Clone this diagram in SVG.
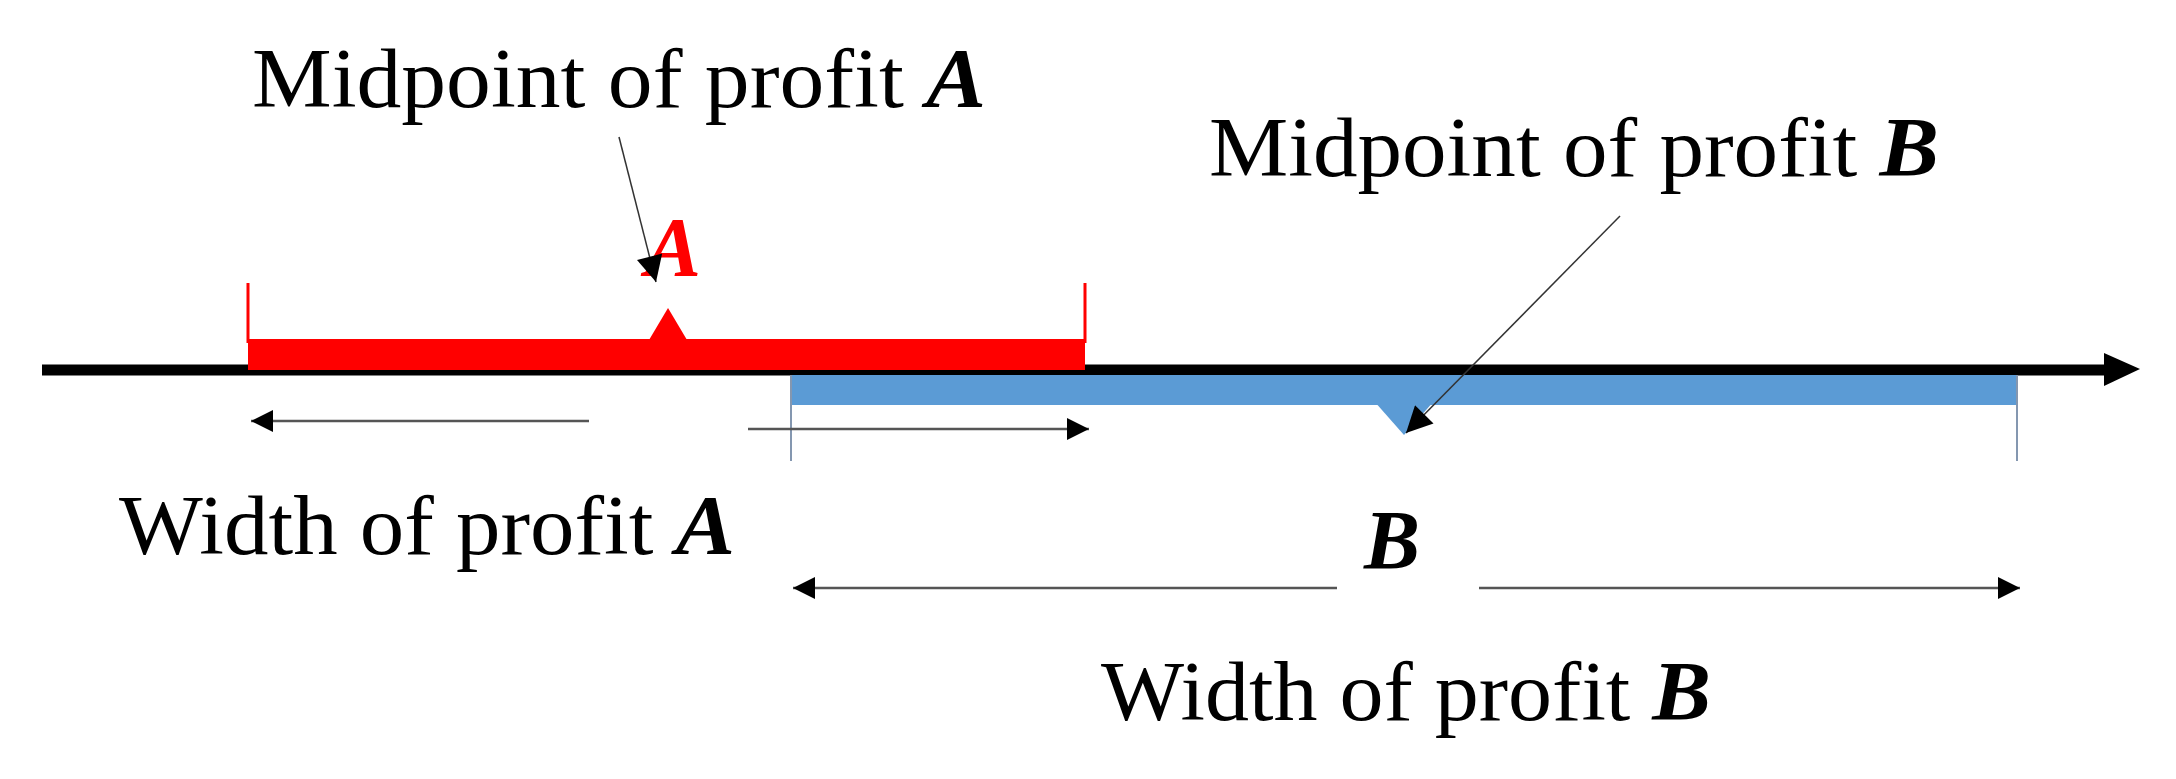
<svg xmlns="http://www.w3.org/2000/svg" width="2176" height="779" viewBox="0 0 2176 779">
<style>
.t{font-family:"Liberation Serif","Times New Roman",serif;font-size:84px;fill:#000}
.bi{font-weight:bold;font-style:italic}
.dim{stroke:#555;stroke-width:2.5;fill:none}
</style>
<defs>
<marker id="ah" markerWidth="10" markerHeight="8" refX="9" refY="4" orient="auto" markerUnits="userSpaceOnUse" viewBox="0 0 10 8">
<path d="M0,0 L10,4 L0,8 Z" fill="#000"/>
</marker>
<marker id="ahd" viewBox="0 0 10 10" refX="10" refY="5" markerWidth="24" markerHeight="22" orient="auto" markerUnits="userSpaceOnUse">
<path d="M0,0 L10,5 L0,10 Z" fill="#000"/>
</marker>
<marker id="ahp" viewBox="0 0 10 10" refX="10" refY="5" markerWidth="30" markerHeight="26" orient="auto" markerUnits="userSpaceOnUse">
<path d="M0,0 L10,5 L0,10 Z" fill="#000"/>
</marker>
</defs>
<rect width="2176" height="779" fill="#fff"/>
<g id="axis">
<line x1="42" y1="370" x2="2110" y2="370" stroke="#000" stroke-width="11"/>
<path d="M2104,353 L2140,369 L2104,386 Z" fill="#000"/>
</g>
<g id="barA">
<rect x="248" y="339" width="837" height="31" fill="#ff0000"/>
<rect x="246.5" y="283" width="3" height="60" fill="#ff0000"/>
<rect x="1083.5" y="283" width="3" height="60" fill="#ff0000"/>
<path d="M649,340 L668,308 L687,340 Z" fill="#ff0000"/>
<text x="645" y="276" class="t bi" font-size="130" fill="#ff0000" style="fill:#ff0000">A</text>
</g>
<g id="barB">
<rect x="791" y="375" width="1226" height="30" fill="#5b9bd5"/>
<line x1="791" y1="375" x2="791" y2="461" stroke="#8497b0" stroke-width="2"/>
<line x1="2017" y1="375" x2="2017" y2="461" stroke="#8497b0" stroke-width="2"/>
<path d="M1374,401 L1434,401 L1404,435 Z" fill="#5b9bd5"/>
<text x="1364" y="569" class="t bi" font-size="125">B</text>
</g>
<g id="labels">
<text x="252" y="107" class="t" textLength="734" lengthAdjust="spacingAndGlyphs">Midpoint of profit <tspan class="bi">A</tspan></text>
<text x="1209" y="176" class="t" textLength="730" lengthAdjust="spacingAndGlyphs">Midpoint of profit <tspan class="bi">B</tspan></text>
<text x="119" y="554" class="t" textLength="616" lengthAdjust="spacingAndGlyphs">Width of profit <tspan class="bi">A</tspan></text>
<text x="1101" y="720" class="t" textLength="610" lengthAdjust="spacingAndGlyphs">Width of profit <tspan class="bi">B</tspan></text>
</g>
<g id="connectors">
<line x1="619" y1="137" x2="656" y2="282" stroke="#333" stroke-width="1.5" marker-end="url(#ahp)"/>
<line x1="1620" y1="216" x2="1406" y2="433" stroke="#333" stroke-width="1.5" marker-end="url(#ahp)"/>
<line class="dim" x1="589" y1="421" x2="251" y2="421" marker-end="url(#ahd)"/>
<line class="dim" x1="748" y1="429" x2="1089" y2="429" marker-end="url(#ahd)"/>
<line class="dim" x1="1337" y1="588" x2="793" y2="588" marker-end="url(#ahd)"/>
<line class="dim" x1="1479" y1="588" x2="2020" y2="588" marker-end="url(#ahd)"/>
</g>
</svg>
